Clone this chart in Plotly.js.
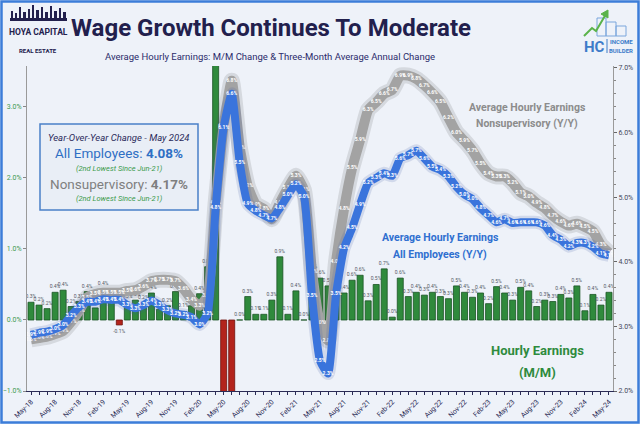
<!DOCTYPE html>
<html><head><meta charset="utf-8">
<script src="https://cdn.plot.ly/plotly-3.0.1.min.js"></script>
<style>html,body{margin:0;padding:0;background:#eef2f9}#chart{width:640px;height:424px}</style>
</head><body><div id="chart"></div>
<script>
const months=['May-18','Jun-18','Jul-18','Aug-18','Sep-18','Oct-18','Nov-18','Dec-18',
'Jan-19','Feb-19','Mar-19','Apr-19','May-19','Jun-19','Jul-19','Aug-19','Sep-19','Oct-19','Nov-19','Dec-19',
'Jan-20','Feb-20','Mar-20','Apr-20','May-20','Jun-20','Jul-20','Aug-20','Sep-20','Oct-20','Nov-20','Dec-20',
'Jan-21','Feb-21','Mar-21','Apr-21','May-21','Jun-21','Jul-21','Aug-21','Sep-21','Oct-21','Nov-21','Dec-21',
'Jan-22','Feb-22','Mar-22','Apr-22','May-22','Jun-22','Jul-22','Aug-22','Sep-22','Oct-22','Nov-22','Dec-22',
'Jan-23','Feb-23','Mar-23','Apr-23','May-23','Jun-23','Jul-23','Aug-23','Sep-23','Oct-23','Nov-23','Dec-23',
'Jan-24','Feb-24','Mar-24','Apr-24','May-24'];
const labeledMonths=['May-18','Aug-18','Nov-18','Feb-19','May-19','Aug-19','Nov-19','Feb-20','May-20','Aug-20','Nov-20',
'Feb-21','May-21','Aug-21','Nov-21','Feb-22','May-22','Aug-22','Nov-22','Feb-23','May-23','Aug-23','Nov-23','Feb-24','May-24'];
const mmChange=[0.25,0.21,0.16,0.39,0.42,0.19,0.26,0.40,
0.17,0.43,0.30,-0.07,0.25,0.28,0.24,0.38,0.15,0.20,0.40,0.12,
0.20,0.37,0.75,4.60,-1.05,-1.20,0.00,0.33,0.08,0.08,0.28,0.89,
0.08,0.41,0.00,0.68,0.59,0.48,0.40,0.38,0.56,0.63,0.27,0.50,
0.72,0.04,0.59,0.33,0.39,0.35,0.39,0.33,0.30,0.48,0.39,0.32,
0.38,0.23,0.47,0.38,0.28,0.46,0.41,0.19,0.28,0.26,0.36,0.31,
0.48,0.13,0.36,0.21,0.39];
const allEmployees=[2.87,2.90,2.92,2.96,3.02,3.17,3.30,3.38,
3.38,3.42,3.41,3.41,3.33,3.28,3.33,3.40,3.33,3.25,3.20,3.18,
3.14,3.03,3.20,4.83,6.08,6.60,5.53,4.90,4.79,4.72,4.67,4.83,
5.03,5.20,5.01,3.47,2.47,2.27,3.50,4.21,4.52,4.89,5.22,5.30,
5.37,5.33,5.60,5.65,5.72,5.60,5.47,5.42,5.32,5.16,5.04,4.97,
4.83,4.72,4.61,4.66,4.60,4.61,4.61,4.61,4.56,4.41,4.34,4.24,
4.29,4.29,4.23,4.13,4.10];
const nonSupervisory=[2.80,2.82,2.84,2.88,2.93,3.07,3.24,3.45,
3.50,3.52,3.52,3.52,3.55,3.56,3.62,3.70,3.72,3.72,3.70,3.58,
3.42,3.32,3.48,4.91,6.10,6.80,5.77,5.17,4.89,4.82,4.66,4.91,
5.14,5.33,5.11,3.85,3.05,2.78,4.00,4.82,5.45,5.89,6.35,6.47,
6.60,6.66,6.88,6.88,6.83,6.73,6.61,6.47,6.23,6.00,5.87,5.72,
5.52,5.37,5.32,5.32,5.22,5.07,5.01,4.91,4.83,4.71,4.62,4.56,
4.59,4.54,4.47,4.26,4.14];

const W=640,H=424,L=27,R=27,T=66,B=33,PW=W-L-R,PH=H-T-B;
const px=x=>(x-L)/PW, py=y=>(H-B-y)/PH;
const leftRange=[-1,3.577], rightRange=[2,7.03];
const navy='#22204d', green='#2e8b3e', blue='#2f6fd0', grey='#8c8c8c';
const FONT='Roboto, Arial, sans-serif';
const NARROW='"Liberation Sans Narrow", "DejaVu Sans Condensed", Roboto, sans-serif';

const barText=mmChange.map(v=>(v>=leftRange[0]&&v<=leftRange[1])?v.toFixed(1)+'%':'');
const barColors=mmChange.map(v=>v<0?'#b3241c':'#2f8a3c');
const barLines=mmChange.map(v=>v<0?'#6e120c':'#1a5424');
const tickText=months.map(m=>labeledMonths.includes(m)?m:'');

const traces=[
 {type:'bar',x:months,y:mmChange,yaxis:'y',marker:{color:barColors,line:{color:barLines,width:0.8}},
  text:barText,textposition:'outside',textangle:0,constraintext:'none',
  textfont:{size:5,color:'#555a66',family:FONT},cliponaxis:true,hoverinfo:'skip'},
 {type:'scatter',mode:'lines',x:months,y:nonSupervisory,yaxis:'y2',line:{color:'rgba(90,90,90,0.16)',width:16,shape:'spline',smoothing:0.5},hoverinfo:'skip'},
 {type:'scatter',mode:'lines+text',x:months,y:nonSupervisory,yaxis:'y2',line:{color:'#a3a3a3',width:10,shape:'spline',smoothing:0.5},
  text:nonSupervisory.map(v=>v.toFixed(1)+'%'),textposition:'middle center',textfont:{size:5,color:'#ffffff',family:FONT,weight:700},cliponaxis:false,hoverinfo:'skip'},
 {type:'scatter',mode:'lines',x:months,y:allEmployees,yaxis:'y2',line:{color:'rgba(60,90,160,0.16)',width:13,shape:'spline',smoothing:0.5},hoverinfo:'skip'},
 {type:'scatter',mode:'lines+text',x:months,y:allEmployees,yaxis:'y2',line:{color:'#3a74dc',width:8,shape:'spline',smoothing:0.5},
  text:allEmployees.map(v=>v.toFixed(1)+'%'),textposition:'middle center',textfont:{size:5,color:'#ffffff',family:FONT,weight:700},cliponaxis:false,hoverinfo:'skip'}
];

function ann(text,x,y,size,color,extra){return Object.assign({text:text,x:px(x),y:py(y),xref:'paper',yref:'paper',showarrow:false,
 xanchor:'center',yanchor:'middle',font:{size:size,color:color,family:FONT}},extra||{});}

const annotations=[
 ann('<b>Wage Growth Continues To Moderate</b>',271,28,24,navy),
 ann('Average Hourly Earnings: M/M Change & Three-Month Average Annual Change',270,56,9.5,'#2b2b6b'),
 ann('<b>HOYA CAPITAL</b>',38,32,8.5,navy),
 ann('<b>REAL ESTATE</b>',38,50,6,navy),
 ann('<b>HC</b>',594,47,15,'#3d7cc9'),
 ann('<b>INCOME</b>',621,42,6,'#3d7cc9'),
 ann('<b>BUILDER</b>',621,50,6,'#3d7cc9'),
 ann('<i>Year-Over-Year Change - May 2024</i>',119,137,9.5,'#2b2b5b'),
 ann('All Employees: <b>4.08%</b>',119,153,13.5,'#2f6fc4'),
 ann('<i>(2nd Lowest Since Jun-21)</i>',119,168,7.5,'#3a9a4a'),
 ann('Nonsupervisory: <b>4.17%</b>',119,184,13.5,'#7f7f7f'),
 ann('<i>(2nd Lowest Since Jun-21)</i>',119,199,7.5,'#3a9a4a'),
 ann('<b>Average Hourly Earnings</b>',527,107,10.5,grey),
 ann('<b>Nonsupervisory (Y/Y)</b>',527,123,10.5,grey),
 ann('<b>Average Hourly Earnings</b>',440,237,10.5,blue),
 ann('<b>All Employees (Y/Y)</b>',440,254,10.5,blue),
 ann('<b>Hourly Earnings</b>',537,350,13,green),
 ann('<b>(M/M)</b>',537,372,13,green)
];

function rect(x0,y0,x1,y1,fill,line,lw){return {type:'rect',xref:'paper',yref:'paper',x0:px(x0),x1:px(x1),y0:py(y0),y1:py(y1),
 fillcolor:fill,line:{color:line||'rgba(0,0,0,0)',width:lw||0},layer:'above'};}
const shapes=[
 rect(40,124,198,210,'rgba(232,237,245,0.95)','#4a80c8',1.5),
 rect(1.5,1.5,638.5,422.5,'rgba(0,0,0,0)','#3c7dd9',2.5),
 rect(10,18,67,21,navy),
 rect(11,11,13,18,navy),rect(15,13,17,18,navy),rect(19,7,21,18,navy),rect(23,12,26,18,navy),rect(28,9,30,18,navy),
 rect(32,5,34,18,navy),rect(36,10,39,18,navy),rect(41,7,43,18,navy),rect(45,12,48,18,navy),rect(50,6,52,18,navy),
 rect(54,11,57,18,navy),rect(59,8,61,18,navy),rect(63,12,66,18,navy),
 rect(597,18,606,36,'rgba(0,0,0,0)','#7aa6dc',1),rect(606,22,616,36,'rgba(0,0,0,0)','#7aa6dc',1),rect(616,26,626,36,'rgba(0,0,0,0)','#7aa6dc',1),
 {type:'path',xref:'paper',yref:'paper',path:`M ${px(584)} ${py(36)} L ${px(592)} ${py(28)} L ${px(596)} ${py(31)} L ${px(606)} ${py(14)}`,line:{color:'#5ab34a',width:2},layer:'above'},
 {type:'path',xref:'paper',yref:'paper',path:`M ${px(601)} ${py(14)} L ${px(608)} ${py(10)} L ${px(608)} ${py(18)} Z`,fillcolor:'#5ab34a',line:{color:'#5ab34a',width:1},layer:'above'},
 {type:'line',xref:'paper',yref:'paper',x0:px(607),x1:px(607),y0:py(39),y1:py(53),line:{color:'#3d7cc9',width:1},layer:'above'}
];

const layout={width:W,height:H,margin:{l:L,r:R,t:T,b:B,pad:0},paper_bgcolor:'#eef2f9',plot_bgcolor:'#eef2f9',
 showlegend:false,bargap:0.25,font:{family:FONT},
 xaxis:{type:'category',range:[-0.5,months.length-0.5],tickmode:'array',tickvals:months,ticktext:tickText,tickangle:-45,
  tickfont:{size:7,color:'#2b2b55'},ticks:'outside',ticklen:3,tickcolor:'#2b2b55',showgrid:false,zeroline:false,
  showline:true,linecolor:'#2b2b55',linewidth:1,fixedrange:true},
 yaxis:{range:leftRange,dtick:1,tick0:0,tickformat:'.1f',ticksuffix:'%',tickfont:{size:7,color:'#3f9b4f'},
  ticks:'outside',ticklen:3,tickcolor:'#888',showgrid:false,zeroline:false,showline:true,linecolor:'#9a9a9a',linewidth:1},
 yaxis2:{range:rightRange,overlaying:'y',side:'right',dtick:1,tick0:2,tickformat:'.1f',ticksuffix:'%',
  tickfont:{size:7,color:'#44475a'},ticks:'outside',ticklen:3,tickcolor:'#666',showgrid:false,zeroline:false,
  showline:true,linecolor:'#9a9a9a',linewidth:1,minor:{dtick:0.2,ticks:'outside',ticklen:2,tickcolor:'#888'}},
 annotations:annotations,shapes:shapes};
Plotly.newPlot('chart',traces,layout,{staticPlot:true,displayModeBar:false});
</script></body></html>
